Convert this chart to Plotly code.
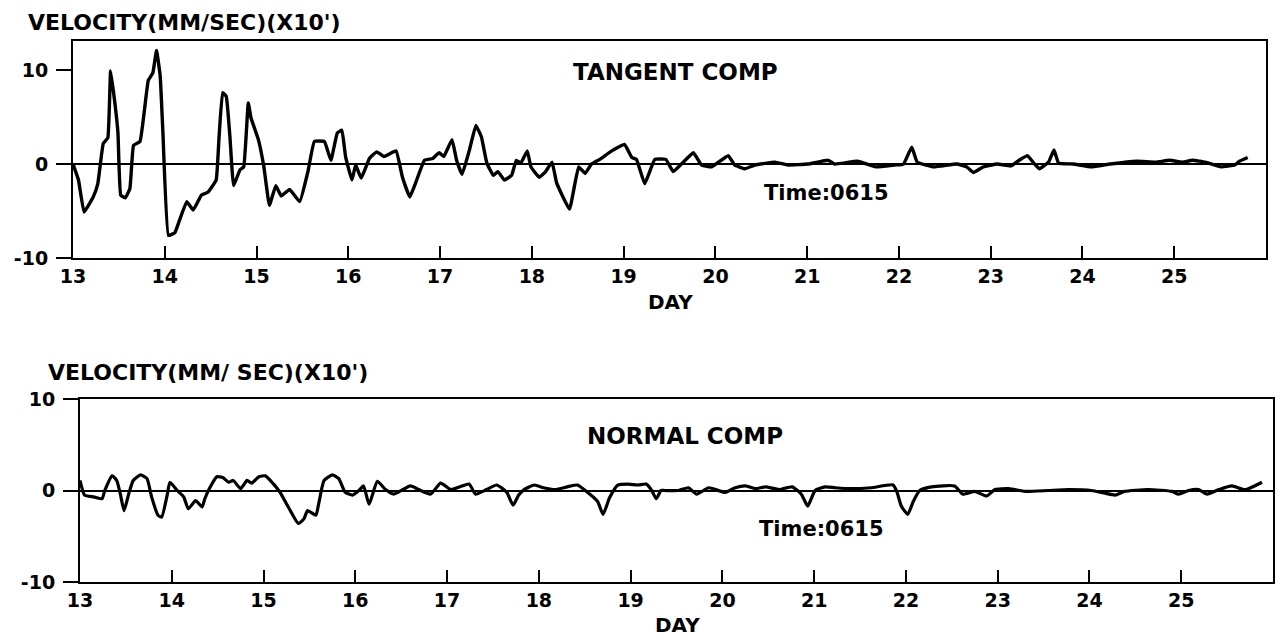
import plotly.graph_objects as go

# ---------------- data ----------------
tan_day = [13.00, 13.06, 13.12, 13.22, 13.27, 13.33, 13.38, 13.41, 13.46, 13.49,
           13.52, 13.57, 13.62, 13.66, 13.73, 13.82, 13.87, 13.91, 13.95, 13.98,
           14.04, 14.11, 14.16, 14.24, 14.31, 14.40, 14.47, 14.56, 14.59, 14.63,
           14.67, 14.71, 14.75, 14.82, 14.86, 14.91, 14.94, 15.02, 15.08, 15.14,
           15.21, 15.27, 15.36, 15.47, 15.56, 15.63, 15.74, 15.81, 15.88, 15.93,
           15.97, 16.04, 16.08, 16.14, 16.23, 16.31, 16.39, 16.52, 16.59, 16.67,
           16.73, 16.83, 16.92, 16.99, 17.04, 17.13, 17.18, 17.24, 17.32, 17.39,
           17.45, 17.51, 17.58, 17.63, 17.70, 17.78, 17.83, 17.88, 17.95, 17.99,
           18.08, 18.15, 18.22, 18.27, 18.41, 18.51, 18.58, 18.65, 18.74, 18.87,
           19.01, 19.09, 19.14, 19.23, 19.34, 19.46, 19.54, 19.63, 19.76, 19.85,
           19.96, 20.14, 20.21, 20.32, 20.43, 20.65, 20.79, 21.01, 21.23, 21.30,
           21.55, 21.75, 21.95, 22.05, 22.14, 22.20, 22.38, 22.63, 22.74, 22.81,
           22.92, 23.07, 23.22, 23.31, 23.40, 23.47, 23.53, 23.63, 23.69, 23.74,
           23.90, 24.10, 24.30, 24.59, 24.80, 24.95, 25.09, 25.20, 25.34, 25.51,
           25.66, 25.71, 25.80]
tan_vel = [0.0, -1.7, -5.1, -3.5, -2.1, 2.2, 2.8, 9.9, 6.2, 3.3,
           -3.3, -3.6, -2.6, 2.0, 2.4, 8.9, 9.7, 12.1, 9.4, 3.3,
           -7.6, -7.3, -6.0, -4.0, -4.9, -3.3, -3.0, -1.7, 2.6, 7.6,
           7.2, 2.9, -2.3, -0.6, -0.3, 6.5, 4.9, 2.6, -0.3, -4.4,
           -2.3, -3.4, -2.7, -4.0, -0.8, 2.4, 2.4, 0.4, 3.3, 3.6,
           0.8, -1.7, -0.1, -1.5, 0.6, 1.3, 0.8, 1.4, -1.4, -3.5,
           -2.1, 0.4, 0.6, 1.2, 0.8, 2.6, 0.4, -1.1, 1.5, 4.1,
           2.9, 0.1, -1.2, -0.8, -1.7, -1.2, 0.4, 0.1, 1.4, -0.3,
           -1.4, -0.8, 0.2, -2.0, -4.8, -0.3, -1.0, 0.0, 0.5, 1.4,
           2.1, 0.7, 0.5, -2.1, 0.5, 0.5, -0.8, 0.0, 1.2, -0.1,
           -0.3, 0.9, -0.1, -0.5, -0.1, 0.2, -0.1, 0.0, 0.4, 0.0,
           0.3, -0.3, -0.1, 0.0, 1.8, 0.2, -0.3, 0.0, -0.3, -0.9,
           -0.3, 0.0, -0.2, 0.4, 0.9, 0.1, -0.5, 0.2, 1.5, 0.1,
           0.0, -0.3, 0.0, 0.3, 0.2, 0.4, 0.2, 0.4, 0.2, -0.3,
           -0.1, 0.3, 0.7]

nor_day = [13.00, 13.05, 13.15, 13.24, 13.27, 13.35, 13.40, 13.44, 13.48, 13.53,
           13.58, 13.66, 13.73, 13.78, 13.85, 13.89, 13.95, 13.98, 14.06, 14.13,
           14.18, 14.26, 14.33, 14.36, 14.42, 14.49, 14.56, 14.62, 14.67, 14.75,
           14.82, 14.87, 14.95, 15.02, 15.11, 15.18, 15.27, 15.38, 15.44, 15.48,
           15.57, 15.60, 15.66, 15.75, 15.82, 15.89, 15.97, 16.04, 16.09, 16.15,
           16.24, 16.33, 16.42, 16.60, 16.69, 16.82, 16.93, 17.04, 17.14, 17.24,
           17.31, 17.43, 17.54, 17.65, 17.72, 17.78, 17.84, 17.95, 18.05, 18.18,
           18.31, 18.42, 18.53, 18.64, 18.70, 18.77, 18.86, 18.97, 19.08, 19.17,
           19.23, 19.28, 19.33, 19.37, 19.52, 19.63, 19.72, 19.85, 20.03, 20.14,
           20.25, 20.36, 20.47, 20.62, 20.76, 20.86, 20.93, 21.01, 21.12, 21.23,
           21.40, 21.62, 21.86, 21.90, 21.95, 22.02, 22.08, 22.15, 22.28, 22.53,
           22.62, 22.75, 22.88, 22.97, 23.12, 23.30, 23.55, 23.77, 24.02, 24.17,
           24.28, 24.38, 24.64, 24.90, 24.97, 25.08, 25.19, 25.28, 25.41, 25.55,
           25.70, 25.88]
nor_vel = [1.1, -0.5, -0.7, -0.9, 0.0, 1.6, 1.1, -0.4, -2.2, -0.4,
           1.1, 1.7, 1.3, -0.7, -2.7, -2.9, -0.5, 0.9, 0.0, -0.7,
           -2.0, -1.1, -1.8, -0.9, 0.4, 1.5, 1.4, 0.9, 1.1, 0.2,
           1.1, 0.8, 1.5, 1.6, 0.7, -0.2, -1.8, -3.6, -3.1, -2.2,
           -2.7, -1.5, 1.1, 1.7, 1.3, -0.2, -0.5, 0.0, 0.5, -1.5,
           1.0, 0.1, -0.4, 0.5, 0.1, -0.4, 0.8, 0.1, 0.4, 0.7,
           -0.4, 0.1, 0.6, -0.2, -1.6, -0.5, 0.1, 0.6, 0.3, 0.1,
           0.4, 0.6, -0.2, -1.2, -2.6, -0.8, 0.6, 0.7, 0.6, 0.7,
           0.0, -0.9, 0.0, 0.0, 0.0, 0.3, -0.4, 0.3, -0.2, 0.3,
           0.5, 0.2, 0.4, 0.1, 0.4, -0.4, -1.7, 0.0, 0.4, 0.3,
           0.2, 0.3, 0.6, -0.1, -1.7, -2.6, -1.2, 0.0, 0.4, 0.5,
           -0.4, -0.1, -0.6, 0.1, 0.2, -0.1, 0.0, 0.1, 0.0, -0.3,
           -0.5, -0.1, 0.1, -0.1, -0.4, 0.0, 0.1, -0.4, 0.1, 0.5,
           0.1, 0.9]

day_ticks = list(range(13, 26))
day_labels = [str(d) for d in day_ticks]
vel_ticks = [-10, 0, 10]
vel_labels = ["-10", "0", "10"]

title_text = "VELOCITY(MM/SEC)(X10')"
title_text_2 = "VELOCITY(MM/ SEC)(X10')"

# ---------------- figure ----------------
W, H = 1282, 637
FONT = "DejaVu Sans"
tickfont = dict(family=FONT, size=19, color="black", weight="bold")

fig = go.Figure()
fig.add_trace(go.Scatter(x=tan_day, y=tan_vel, mode="lines",
                         line=dict(color="black", width=3.4, shape="spline", smoothing=0.3),
                         xaxis="x", yaxis="y", hoverinfo="skip"))
fig.add_trace(go.Scatter(x=nor_day, y=nor_vel, mode="lines",
                         line=dict(color="black", width=3.2, shape="spline", smoothing=0.5),
                         xaxis="x2", yaxis="y2", hoverinfo="skip"))

def xax(domain, anchor):
    return dict(domain=domain, anchor=anchor, range=[13, 26],
                tickvals=day_ticks, ticktext=day_labels, ticks="inside",
                ticklen=12, tickwidth=2, tickcolor="black",
                showline=True, linecolor="black", linewidth=2, mirror=True,
                showgrid=False, zeroline=False, tickfont=tickfont)

def yax(domain, anchor, rng):
    return dict(domain=domain, anchor=anchor, range=rng,
                tickvals=vel_ticks, ticktext=vel_labels, ticks="outside",
                ticklen=15, tickwidth=2, tickcolor="black",
                showline=True, linecolor="black", linewidth=2, mirror=True,
                showgrid=False, zeroline=True, zerolinecolor="black",
                zerolinewidth=1.5, tickfont=tickfont, ticklabelstandoff=4)

fig.update_layout(
    width=W, height=H,
    margin=dict(l=0, r=0, t=0, b=0, autoexpand=False),
    paper_bgcolor="white", plot_bgcolor="white",
    showlegend=False,
    xaxis=xax([73 / W, 1266 / W], "y"),
    yaxis=yax([1 - 258 / H, 1 - 41 / H], "x", [-10, 13.1]),
    xaxis2=xax([80 / W, 1273 / W], "y2"),
    yaxis2=yax([1 - 582 / H, 1 - 399 / H], "x2", [-10, 10]),
)

def note(text, px, py, size, anchor="center"):
    fig.add_annotation(text=text, x=px / W, y=1 - py / H, xref="paper", yref="paper",
                       xanchor=anchor, yanchor="middle", showarrow=False,
                       font=dict(family=FONT, size=size, color="black", weight="bold"))

note(title_text, 26, 22, 22, "left")
note(title_text_2, 46, 372, 22, "left")
note("TANGENT COMP", 676, 72, 23)
note("NORMAL COMP", 685, 436, 23)
note("Time:0615", 826, 193, 21)
note("Time:0615", 821, 529, 21)
note("DAY", 670, 302, 20)
note("DAY", 677, 625, 20)

fig.write_html("out.html",
               config={"displayModeBar": False},
               post_script="document.body.style.margin='0';document.body.style.overflow='hidden';")
